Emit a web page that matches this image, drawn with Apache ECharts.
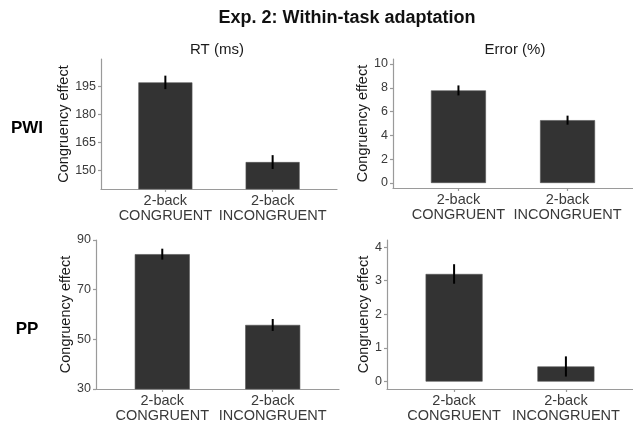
<!DOCTYPE html>
<html>
<head>
<meta charset="utf-8">
<script src="https://cdn.jsdelivr.net/npm/echarts@6/dist/echarts.min.js"></script>
<style>
html,body{margin:0;padding:0;background:#fff;}
#chart{width:633px;height:428px;}
</style>
</head>
<body>
<div id="chart"></div>
<script>
// ---- data ----
const categories = ['2-back\nCONGRUENT', '2-back\nINCONGRUENT'];
const categoryPos = [1, 2];

const pwiRT = [197.0, 154.4];
const pwiRTse = [3.6, 3.7];
const pwiErr = [7.78, 5.28];
const pwiErrSe = [0.42, 0.38];
const ppRT = [84.3, 55.8];
const ppRTse = [2.2, 2.4];
const ppErr = [3.2, 0.45];
const ppErrSe = [0.29, 0.30];

const pwiRTTicks = [150, 165, 180, 195];
const pwiErrTicks = [0, 2, 4, 6, 8, 10];
const ppRTTicks = [30, 50, 70, 90];
const ppErrTicks = [0, 1, 2, 3, 4];

const mainTitle = 'Exp. 2: Within-task adaptation';
const colTitles = ['RT (ms)', 'Error (%)'];
const rowTitles = ['PWI', 'PP'];
const yName = 'Congruency effect';

// ---- chart ----
const FONT = '"Liberation Sans", Arial, sans-serif';
const axisColor = '#9a9a9a';
const textColor = '#3a3a3a';

const panels = [
  {vals: pwiRT, se: pwiRTse, ticks: pwiRTTicks, min: 140, max: 209.5, grid: {left: 101, top: 59, width: 236, height: 130}, barW: 54, nameGap: 25},
  {vals: pwiErr, se: pwiErrSe, ticks: pwiErrTicks, min: -0.42, max: 10.42, grid: {left: 393, top: 59, width: 244, height: 129}, barW: 55, nameGap: 18},
  {vals: ppRT, se: ppRTse, ticks: ppRTTicks, min: 30, max: 90, grid: {left: 96, top: 240, width: 243, height: 149}, barW: 55, nameGap: 20},
  {vals: ppErr, se: ppErrSe, ticks: ppErrTicks, min: -0.22, max: 4.21, grid: {left: 387, top: 240, width: 250, height: 149}, barW: 57, nameGap: 12}
];

const grids = [], xAxes = [], yAxes = [], series = [];
panels.forEach((p, i) => {
  grids.push(Object.assign({containLabel: false}, p.grid));
  xAxes.push({
    type: 'value', gridIndex: i, min: 0.4, max: 2.6,
    splitLine: {show: false},
    axisLine: {show: true, onZero: false, lineStyle: {color: axisColor, width: 1.2}},
    axisTick: {show: true, length: 3, customValues: categoryPos, lineStyle: {color: axisColor, width: 1.2}},
    axisLabel: {
      show: true, customValues: categoryPos, margin: 4,
      color: textColor, fontSize: 14.5, lineHeight: 15.5, fontFamily: FONT,
      formatter: v => categories[categoryPos.indexOf(Math.round(v))] || ''
    }
  });
  yAxes.push({
    type: 'value', gridIndex: i, min: p.min, max: p.max,
    splitLine: {show: false},
    axisLine: {show: true, onZero: false, lineStyle: {color: axisColor, width: 1.2}},
    axisTick: {show: true, length: 3, customValues: p.ticks, lineStyle: {color: axisColor, width: 1.2}},
    axisLabel: {show: true, customValues: p.ticks, margin: 5, color: textColor, fontSize: 12.5, fontFamily: FONT},
    name: yName, nameLocation: 'middle', nameGap: p.nameGap, nameRotate: 90,
    nameTextStyle: {color: '#1a1a1a', fontSize: 14.5, fontFamily: FONT}
  });
  series.push({
    type: 'bar', xAxisIndex: i, yAxisIndex: i, clip: true,
    barWidth: p.barW,
    itemStyle: {color: '#333333', borderColor: '#555', borderWidth: 0.6},
    data: p.vals.map((v, k) => [categoryPos[k], v]),
    animation: false
  });
  series.push({
    type: 'custom', xAxisIndex: i, yAxisIndex: i, clip: true,
    data: p.vals.map((v, k) => [categoryPos[k], v - p.se[k], v + p.se[k]]),
    encode: {x: 0, y: [1, 2]},
    renderItem: (params, api) => {
      const a = api.coord([api.value(0), api.value(1)]);
      const b = api.coord([api.value(0), api.value(2)]);
      return {
        type: 'line',
        shape: {x1: a[0], y1: a[1], x2: b[0], y2: b[1]},
        style: {stroke: '#000', lineWidth: 2}
      };
    },
    z: 5,
    animation: false
  });
});

const graphics = [
  {type: 'text', x: 347, y: 18, style: {text: mainTitle, font: 'bold 18px ' + FONT, fill: '#111', align: 'center', verticalAlign: 'middle'}},
  {type: 'text', x: 217, y: 50, style: {text: colTitles[0], font: '15px ' + FONT, fill: '#1a1a1a', align: 'center', verticalAlign: 'middle'}},
  {type: 'text', x: 515, y: 50, style: {text: colTitles[1], font: '15px ' + FONT, fill: '#1a1a1a', align: 'center', verticalAlign: 'middle'}},
  {type: 'text', x: 27, y: 128, style: {text: rowTitles[0], font: 'bold 17px ' + FONT, fill: '#000', align: 'center', verticalAlign: 'middle'}},
  {type: 'text', x: 27, y: 329, style: {text: rowTitles[1], font: 'bold 17px ' + FONT, fill: '#000', align: 'center', verticalAlign: 'middle'}}
];

const chart = echarts.init(document.getElementById('chart'), null, {renderer: 'canvas'});
chart.setOption({
  backgroundColor: '#fff',
  animation: false,
  grid: grids,
  xAxis: xAxes,
  yAxis: yAxes,
  series: series,
  graphic: graphics
});
</script>
</body>
</html>
